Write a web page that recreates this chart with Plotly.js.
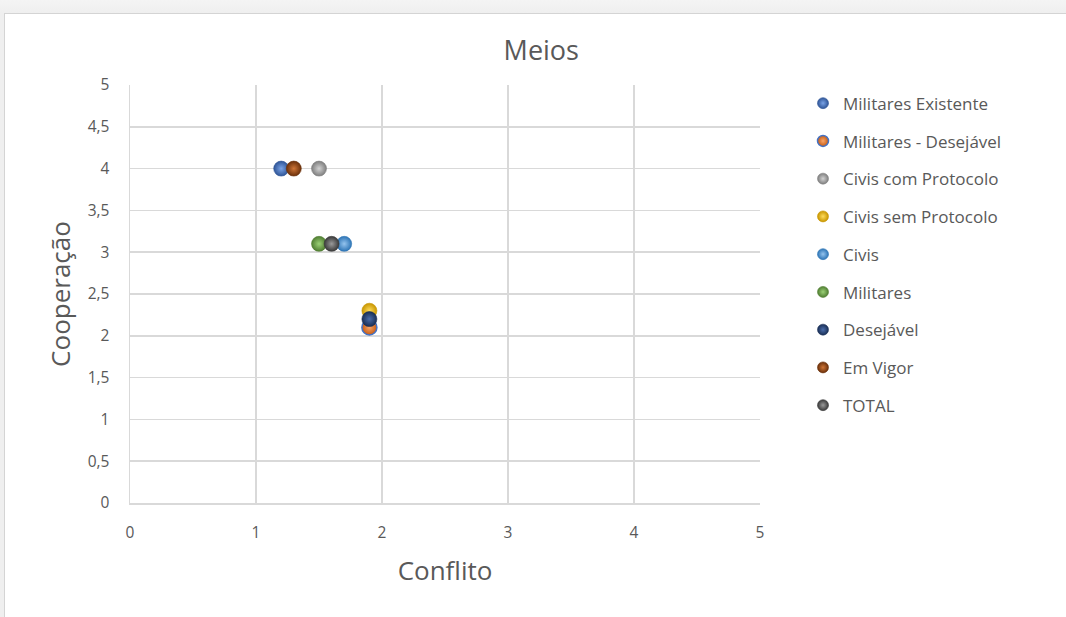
<!DOCTYPE html>
<html>
<head>
<meta charset="utf-8">
<script src="https://cdn.plot.ly/plotly-3.0.1.min.js"></script>
<style>
  html, body { margin: 0; padding: 0; width: 1066px; height: 617px; overflow: hidden;
    background: linear-gradient(to bottom, #f4f4f4 0px, #efefef 13px); }
  #chart { position: absolute; left: 4px; top: 13px; width: 1062px; height: 604px;
    background: #fff; border-left: 1px solid #d4d4d4; border-top: 1px solid #d4d4d4; box-sizing: border-box; }
</style>
</head>
<body>
<div id="chart"></div>
<script>
// ---- data ----
const seriesNames = ['Militares Existente', 'Militares - Desejável', 'Civis com Protocolo',
  'Civis sem Protocolo', 'Civis', 'Militares', 'Desejável', 'Em Vigor', 'TOTAL'];
const conflito = [1.2, 1.9, 1.5, 1.9, 1.7, 1.5, 1.9, 1.3, 1.6];
const cooperacao = [4, 2.1, 4, 2.3, 3.1, 3.1, 2.2, 4, 3.1];
const xTickVals = [0, 1, 2, 3, 4, 5];
const yTickVals = [0, 0.5, 1, 1.5, 2, 2.5, 3, 3.5, 4, 4.5, 5];

// ---- styles ----
const centerColors = ['#7aa3e6', '#f8a56a', '#d2d2d2', '#ffdc5c', '#95c4ee', '#9bd176', '#4a6dab', '#cf7536', '#9a9a9a'];
const edgeColors   = ['#2f5597', '#c55a11', '#7f7f7f', '#c89600', '#2e75b6', '#507e32', '#1a2f55', '#6b300a', '#3a3a3a'];
const lineColors   = ['#2f5597', '#4472c4', '#7f7f7f', '#c89600', '#2e75b6', '#507e32', '#1a2f55', '#6b300a', '#3a3a3a'];

const FONT = '"Open Sans", sans-serif';
const GREY = '#595959';
const W = 1062, H = 604;

const traces = [];
const layout = {
  width: W, height: H,
  paper_bgcolor: 'rgba(0,0,0,0)', plot_bgcolor: '#fff',
  separators: ',.',
  margin: { l: 125, r: 307, t: 71, b: 115 },
  font: { family: FONT, color: GREY },
  showlegend: true,
  title: { text: 'Meios', font: { size: 27, color: GREY, family: FONT },
    xref: 'container', yref: 'container', x: 0.505, xanchor: 'center', y: 1 - 37 / H, yanchor: 'middle' },
  xaxis: {
    range: [0, 5], tickvals: xTickVals, showgrid: true, gridcolor: '#d9d9d9', gridwidth: 1.5,
    zeroline: false, showline: true, linecolor: '#d9d9d9', linewidth: 1.5,
    ticks: '', ticklabelstandoff: 15, tickfont: { size: 15.5, color: GREY },
    title: { text: 'Conflito', font: { size: 26, color: GREY }, standoff: 19 }, fixedrange: true
  },
  yaxis: {
    range: [0, 5], tickvals: yTickVals, showgrid: true, gridcolor: '#d9d9d9', gridwidth: 1.5,
    zeroline: false, showline: true, linecolor: '#d9d9d9', linewidth: 1.5,
    ticks: '', ticklabelstandoff: 16, tickfont: { size: 15.5, color: GREY },
    title: { text: 'Cooperação', font: { size: 26, color: GREY }, standoff: 9 }, fixedrange: true
  }
};

const legendTop0 = 88.5;    // y (in div) of first legend entry centre
const legendStep = 37.75;
seriesNames.forEach((name, i) => {
  const lg = i === 0 ? 'legend' : 'legend' + (i + 1);
  traces.push({
    type: 'scatter', mode: 'markers', name: name,
    x: [conflito[i]], y: [cooperacao[i]], showlegend: false,
    marker: { size: 15, color: edgeColors[i],
      gradient: { type: 'radial', color: centerColors[i] },
      line: { color: lineColors[i], width: i === 1 ? 1.5 : 0.6 } },
    hoverinfo: 'name+x+y'
  });
  // legend proxy (smaller legend symbol)
  traces.push({
    type: 'scatter', mode: 'markers', name: name, x: [null], y: [null],
    legend: lg, showlegend: true, hoverinfo: 'skip',
    marker: { size: 11, color: edgeColors[i],
      gradient: { type: 'radial', color: centerColors[i] },
      line: { color: lineColors[i], width: i === 1 ? 1.5 : 0.6 } }
  });
  const centreY = legendTop0 + i * legendStep;
  layout[lg] = {
    xref: 'container', yref: 'container',
    x: 798 / W, xanchor: 'left',
    y: 1 - (centreY - 16.9) / H, yanchor: 'top',
    bgcolor: 'rgba(0,0,0,0)', borderwidth: 0,
    font: { size: 17, color: GREY, family: FONT },
    itemclick: false, itemdoubleclick: false
  };
});

Plotly.newPlot('chart', traces, layout, { staticPlot: true, displayModeBar: false });
</script>
</body>
</html>
